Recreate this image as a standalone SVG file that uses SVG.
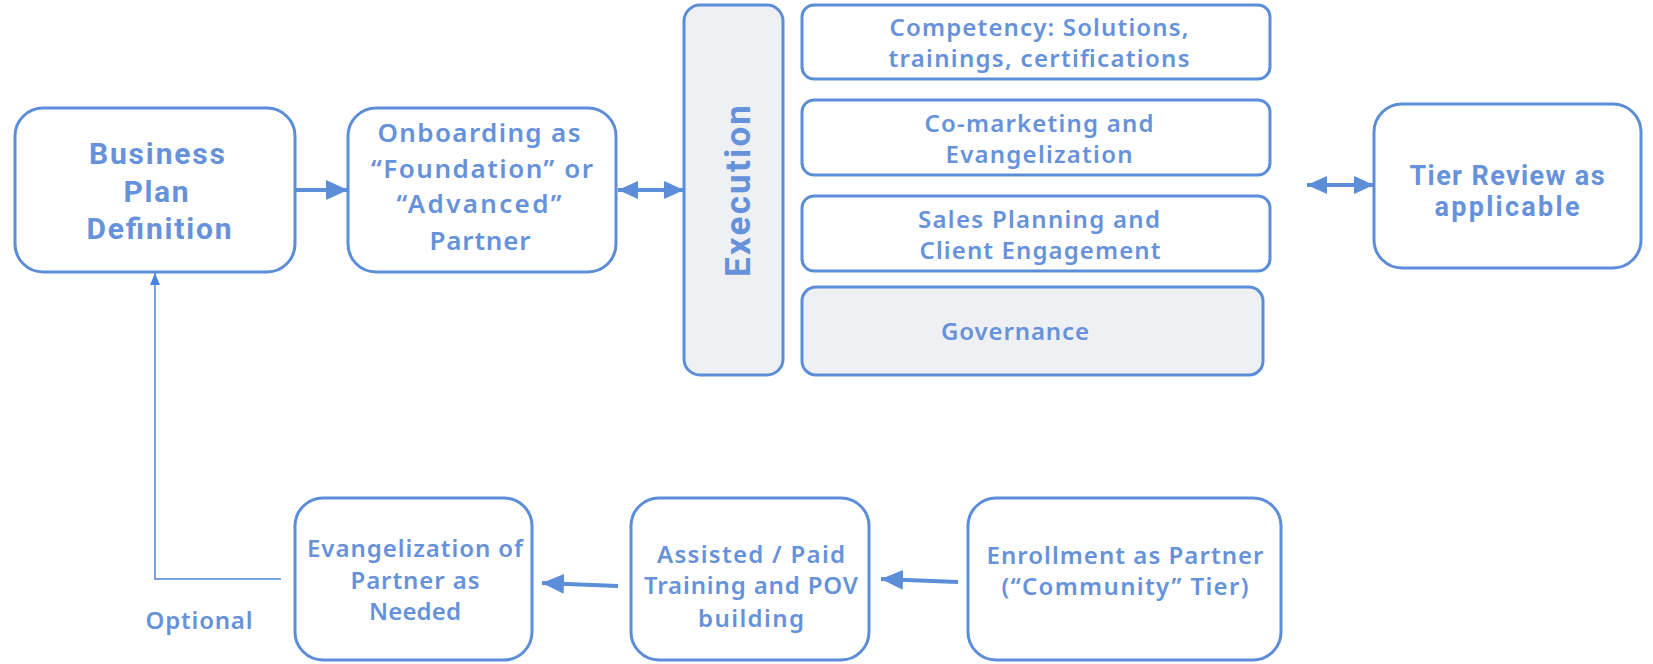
<svg xmlns="http://www.w3.org/2000/svg" width="1653" height="664" viewBox="0 0 1653 664">
  <style>
    .box { fill: #ffffff; stroke: #5b8dd9; stroke-width: 3; }
    .shade { fill: #eff0f4; }
    .t { font-family: "Noto Sans", "Liberation Sans", sans-serif; font-weight: 600; fill: #6592db; text-anchor: middle; }
    .r { font-family: Roboto, "Liberation Sans", sans-serif; font-weight: 700; fill: #6592db; text-anchor: middle; }
    .conn { stroke: #5b8dd9; fill: none; }
  </style>
  <defs>
    <marker id="head" markerUnits="userSpaceOnUse" viewBox="0 0 22 20" refX="22" refY="10" markerWidth="22" markerHeight="20" orient="auto-start-reverse">
      <path d="M0,0 L22,10 L0,20 z" fill="#5b8dd9"/>
    </marker>
    <marker id="headSm" markerUnits="userSpaceOnUse" viewBox="0 0 20 18" refX="20" refY="9" markerWidth="20" markerHeight="18" orient="auto-start-reverse">
      <path d="M0,0 L20,9 L0,18 z" fill="#5b8dd9"/>
    </marker>
    <marker id="tip" markerUnits="userSpaceOnUse" viewBox="0 0 12 10" refX="12" refY="5" markerWidth="12" markerHeight="10" orient="auto">
      <path d="M0,0 L12,5 L0,10 z" fill="#4a86e0"/>
    </marker>
  </defs>

  <!-- connectors -->
  <g id="connectors">
    <line class="conn" x1="296" y1="190" x2="348" y2="190" stroke-width="4" marker-end="url(#head)"/>
    <line class="conn" x1="618" y1="190" x2="684" y2="190" stroke-width="4" marker-start="url(#headSm)" marker-end="url(#headSm)"/>
    <line class="conn" x1="1307" y1="185" x2="1374" y2="185" stroke-width="4" marker-start="url(#headSm)" marker-end="url(#headSm)"/>
    <line class="conn" x1="958" y1="582" x2="881" y2="579" stroke-width="4" marker-end="url(#head)"/>
    <line class="conn" x1="618" y1="586" x2="542" y2="583" stroke-width="4" marker-end="url(#head)"/>
    <polyline points="281,579 155,579 155,273" fill="none" stroke="#4a86e0" stroke-width="1.5" marker-end="url(#tip)"/>
    <text class="t" x="199" y="629" font-size="24" textLength="107" lengthAdjust="spacing">Optional</text>
  </g>

  <g id="business-plan">
    <rect class="box" x="15" y="108" width="280" height="164" rx="28"/>
    <text class="r" font-size="30" x="157" y="164" textLength="136" lengthAdjust="spacing">Business</text>
    <text class="r" font-size="30" x="156" y="202" textLength="65" lengthAdjust="spacing">Plan</text>
    <text class="r" font-size="30" x="159" y="239" textLength="145" lengthAdjust="spacing">Definition</text>
  </g>

  <g id="onboarding">
    <rect class="box" x="348" y="108" width="268" height="164" rx="28"/>
    <text class="t" font-size="26" x="479" y="142" textLength="203" lengthAdjust="spacing">Onboarding as</text>
    <text class="t" font-size="26" x="482" y="178" textLength="222" lengthAdjust="spacing">“Foundation” or</text>
    <text class="t" font-size="26" x="479" y="213" textLength="165" lengthAdjust="spacing">“Advanced”</text>
    <text class="t" font-size="26" x="480" y="250" textLength="101" lengthAdjust="spacing">Partner</text>
  </g>

  <g id="execution">
    <rect class="box shade" x="684" y="5" width="99" height="370" rx="16"/>
    <text class="r" font-size="35" transform="translate(750 191) rotate(-90)" x="0" y="0" textLength="172" lengthAdjust="spacing">Execution</text>
  </g>

  <g id="competency">
    <rect class="box" x="802" y="5" width="468" height="74" rx="12"/>
    <text class="t" font-size="24" x="1039" y="36" textLength="299" lengthAdjust="spacing">Competency: Solutions,</text>
    <text class="t" font-size="24" x="1039" y="67" textLength="301" lengthAdjust="spacing">trainings, certifications</text>
  </g>

  <g id="co-marketing">
    <rect class="box" x="802" y="100" width="468" height="75" rx="12"/>
    <text class="t" font-size="24" x="1039" y="132" textLength="229" lengthAdjust="spacing">Co-marketing and</text>
    <text class="t" font-size="24" x="1039" y="163" textLength="187" lengthAdjust="spacing">Evangelization</text>
  </g>

  <g id="sales-planning">
    <rect class="box" x="802" y="196" width="468" height="75" rx="12"/>
    <text class="t" font-size="24" x="1039" y="228" textLength="242" lengthAdjust="spacing">Sales Planning and</text>
    <text class="t" font-size="24" x="1040" y="259" textLength="241" lengthAdjust="spacing">Client Engagement</text>
  </g>

  <g id="governance">
    <rect class="box shade" x="802" y="287" width="461" height="88" rx="14"/>
    <text class="t" font-size="24" x="1015" y="340" textLength="148" lengthAdjust="spacing">Governance</text>
  </g>

  <g id="tier-review">
    <rect class="box" x="1374" y="104" width="267" height="164" rx="28"/>
    <text class="r" font-size="27" x="1507" y="185" textLength="195" lengthAdjust="spacing">Tier Review as</text>
    <text class="r" font-size="27" x="1507" y="216" textLength="145" lengthAdjust="spacing">applicable</text>
  </g>

  <g id="evangelization">
    <rect class="box" x="295" y="498" width="237" height="162" rx="28"/>
    <text class="t" font-size="24" x="415" y="557" textLength="216" lengthAdjust="spacing">Evangelization of</text>
    <text class="t" font-size="24" x="415" y="589" textLength="129" lengthAdjust="spacing">Partner as</text>
    <text class="t" font-size="24" x="415" y="620" textLength="92" lengthAdjust="spacing">Needed</text>
  </g>

  <g id="assisted-training">
    <rect class="box" x="631" y="498" width="238" height="162" rx="28"/>
    <text class="t" font-size="24" x="751" y="563" textLength="188" lengthAdjust="spacing">Assisted / Paid</text>
    <text class="t" font-size="24" x="751" y="594" textLength="214" lengthAdjust="spacing">Training and POV</text>
    <text class="t" font-size="24" x="751" y="627" textLength="106" lengthAdjust="spacing">building</text>
  </g>

  <g id="enrollment">
    <rect class="box" x="968" y="498" width="313" height="162" rx="28"/>
    <text class="t" font-size="24" x="1125" y="564" textLength="277" lengthAdjust="spacing">Enrollment as Partner</text>
    <text class="t" font-size="24" x="1125" y="595" textLength="247" lengthAdjust="spacing">(“Community” Tier)</text>
  </g>
</svg>
